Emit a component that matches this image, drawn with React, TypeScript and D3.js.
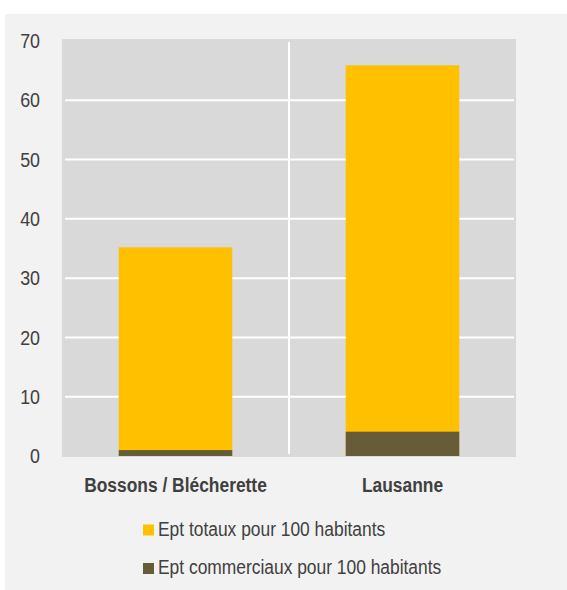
import React from "react";
import * as d3 from "d3";

const categories = ["Bossons / Blécherette", "Lausanne"];
const totalValues = [35.2, 65.9];
const commercialValues = [1.0, 4.1];
const yTicks = [0, 10, 20, 30, 40, 50, 60, 70];
const seriesNames = ["Ept totaux pour 100 habitants", "Ept commerciaux pour 100 habitants"];
const seriesColors = ["#FFC000", "#665D38"];

const W = 567;
const H = 590;
const plot = { left: 62, right: 516, top: 39, bottom: 457 };
const FONT = "'Liberation Sans Narrow', 'Arial Narrow', 'Liberation Sans', Arial, sans-serif";
const SX = 0.87;

function T(props: { x: number; y: number; anchor?: string; size: number; bold?: boolean; dy?: string; children: React.ReactNode }) {
  return (
    <text
      transform={`translate(${props.x},${props.y}) scale(${SX},1)`}
      textAnchor={props.anchor || "start"}
      dy={props.dy}
      fontSize={props.size}
      fontWeight={props.bold ? "bold" : "normal"}
      fill="#404040"
    >
      {props.children}
    </text>
  );
}

export default function App() {
  const x = d3.scaleBand<string>().domain(categories).range([plot.left, plot.right]).padding(0);
  const y = d3.scaleLinear().domain([0, 70]).range([456, 41]);
  const barW = x.bandwidth() * 0.5;

  return (
    <svg width={W} height={H} style={{ position: "absolute", left: 0, top: 0 }} fontFamily={FONT}>
      <rect x={5} y={14} width={W - 5} height={H - 14} fill="#F2F2F2" />
      <rect x={plot.left} y={plot.top} width={plot.right - plot.left} height={plot.bottom - plot.top} fill="#D9D9D9" />
      {yTicks.filter((t) => t > 0 && t < 70).map((t) => (
        <line key={t} x1={plot.left + 3} x2={plot.right - 2} y1={y(t)} y2={y(t)} stroke="#FFFFFF" strokeWidth={2} />
      ))}
      <line x1={plot.left + x.bandwidth()} x2={plot.left + x.bandwidth()} y1={42} y2={454} stroke="#FFFFFF" strokeWidth={2} />
      {categories.map((c, i) => (
        <rect key={"t" + c} x={(x(c) as number) + (x.bandwidth() - barW) / 2} y={y(totalValues[i])} width={barW} height={y(0) - y(totalValues[i])} fill={seriesColors[0]} />
      ))}
      {categories.map((c, i) => (
        <rect key={"c" + c} x={(x(c) as number) + (x.bandwidth() - barW) / 2} y={y(commercialValues[i])} width={barW} height={y(0) - y(commercialValues[i])} fill={seriesColors[1]} />
      ))}
      {yTicks.map((t) => (
        <T key={t} x={40} y={y(t)} dy="0.35em" anchor="end" size={20.5}>{t}</T>
      ))}
      {categories.map((c) => (
        <T key={c} x={(x(c) as number) + x.bandwidth() / 2} y={491.5} anchor="middle" size={20} bold>{c}</T>
      ))}
      {seriesNames.map((s, i) => (
        <g key={s}>
          <rect x={143} y={i === 0 ? 524.5 : 563} width={11} height={11} fill={seriesColors[i]} />
          <T x={158} y={i === 0 ? 535.7 : 574} size={20}>{s}</T>
        </g>
      ))}
    </svg>
  );
}
